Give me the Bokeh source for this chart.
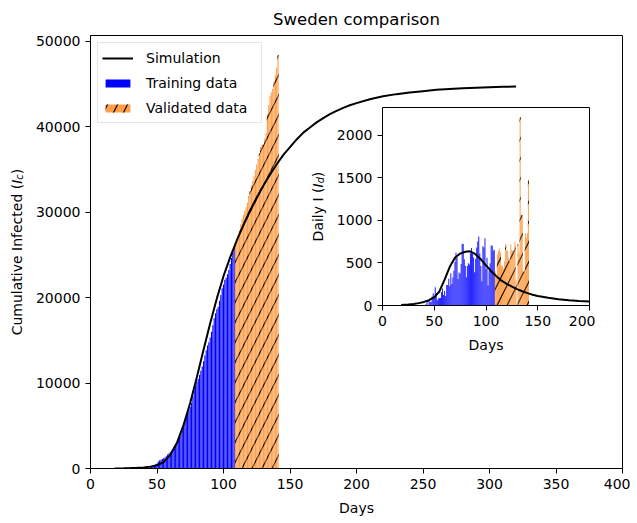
import numpy as np
from math import pi
from bokeh.plotting import figure
from bokeh.layouts import column, row
from bokeh.models import (Range1d, FixedTicker, NumeralTickFormatter, Label,
                          Legend, LegendItem, ColumnDataSource)
from bokeh.embed import file_html
from bokeh.resources import INLINE

# ---------------- data ----------------
days = list(range(35, 142))
daily_cases = [2, 5, 0, 5, 2, 1, 6, 14,
               59, 7, 60, 42, 45, 107, 145, 99,
               215, 147, 61, 81, 87, 89, 160, 200, 124, 171,
               112, 240, 240, 314, 229, 378, 253, 328, 407, 512,
               621, 563, 312, 387, 376, 487, 726, 722, 544, 466,
               332, 465, 497, 482, 613, 676, 606, 563, 392, 545,
               682, 751, 812, 610, 463, 286, 695, 681, 790, 428,
               562, 235, 404, 495, 702, 705, 642, 656,
               400, 350, 600, 640, 670, 625, 470, 465, 435, 520,
               725, 650, 640, 560, 520, 720, 650, 650, 640, 750,
               300, 0, 720, 620, 2215, 1070, 1060, 400, 400, 850, 800, 850, 1478]
training_end = 108

sim_cum_days = [18, 25, 30, 35, 40, 45, 50, 55, 60, 65,
                70, 75, 80, 85, 90, 95, 100, 105,
                110, 115, 120, 125, 130, 135, 140, 145, 150, 155, 160, 165, 170, 175, 180, 185, 190, 195, 200,
                210, 220, 230, 240, 250, 260, 270, 280, 290, 300, 310, 320]
sim_cum_vals = [10, 25, 45, 75, 130, 220, 380, 750, 1600, 3000,
                5100, 7700, 10700, 13900, 17000, 19900, 22500, 24700,
                26700, 28500, 30200, 31700, 33100, 34400, 35600, 36700, 37600, 38500, 39300, 39900, 40500, 41000, 41450, 41850, 42200, 42500, 42750,
                43200, 43550, 43800, 44000, 44150, 44300, 44400, 44480, 44550, 44600, 44650, 44680]

sim_daily_days = [18, 25, 30, 35, 40, 45, 50, 55, 60, 65, 70, 75, 80,
                  84, 88,
                  90, 95, 100, 105, 110, 115, 120, 125, 130, 135, 140, 145, 150,
                  160, 170, 180, 190, 200, 210]
sim_daily_vals = [6, 12, 18, 28, 42, 62, 98, 165, 305, 455, 560, 610, 632,
                  638, 615,
                  600, 543, 472, 402, 345, 292, 255, 223, 192, 167, 145, 126, 112,
                  92, 74, 62, 54, 47, 41]

main_x_ticks = [0, 50, 100, 150, 200, 250, 300, 350, 400]
main_y_ticks = [0, 10000, 20000, 30000, 40000, 50000]
inset_x_ticks = [0, 50, 100, 150, 200]
inset_y_ticks = [0, 500, 1000, 1500, 2000]

# ---------------- derived sources ----------------
d = np.array(days)
daily = np.array(daily_cases)
cumulative = np.cumsum(daily)
tr = d <= training_end
va = d > training_end
src_train = ColumnDataSource(dict(day=d[tr], cum=cumulative[tr], daily=daily[tr]))
src_valid = ColumnDataSource(dict(day=d[va], cum=cumulative[va], daily=daily[va]))

FONT = "DejaVu Sans"
BLUE = "blue"
ORANGE = "#ff7f0e"
HATCH = 20

MAIN_X = (0, 400)
MAIN_Y = (0, 50660)
INS_X = (0, 200)
INS_Y = (0, 2326)

H = 520            # main figure height
LAB_W = 30         # width of the strip holding the main y label
FRAME_L = 90       # page x of main frame left
FRAME_T = 35       # page y of main frame top
FRAME_W = 532
FRAME_H = 433
FRAME_B = H - FRAME_T - FRAME_H


def style(fig, xt, yt):
    fig.xaxis.ticker = FixedTicker(ticks=xt)
    fig.yaxis.ticker = FixedTicker(ticks=yt)
    fig.yaxis.formatter = NumeralTickFormatter(format="0")
    for ax in fig.axis:
        ax.axis_line_color = "black"
        ax.axis_line_width = 1
        ax.major_tick_line_color = "black"
        ax.major_tick_out = 5
        ax.major_tick_in = 0
        ax.minor_tick_line_color = None
        ax.major_label_text_font = FONT
        ax.major_label_text_font_size = "14px"
        ax.major_label_text_color = "black"
        ax.major_label_standoff = 5
        ax.axis_label_text_font = FONT
        ax.axis_label_text_font_size = "14px"
        ax.axis_label_text_font_style = "normal"
        ax.axis_label_text_color = "black"
        ax.axis_label_standoff = 8
    fig.grid.visible = False
    fig.outline_line_color = "black"
    fig.outline_line_alpha = 1
    fig.outline_line_width = 1


def ylabel_pieces(fig, x_center, x_per_px, y_per_px, y_start, base_text, sub_text):
    # "base (" + italic I + italic subscript + ")", rotated to read upwards
    w_base = {"Cumulative Infected (": 151.5, "Daily I (": 53.9}[base_text]
    sub_w = {"c": 0.550, "d": 0.635}[sub_text] * 9.8
    pieces = [
        (base_text, "14px", "normal", 0, w_base),
        ("I", "14px", "italic", 0, 4.13),
        (sub_text, "9.8px", "italic", 3, sub_w),
        (")", "14px", "normal", 0, 5.46),
    ]
    y = y_start
    for text, size, style_, shift, w in pieces:
        fig.add_layout(Label(x=x_center + shift * x_per_px, y=y, text=text, angle=pi / 2,
                             text_align="left", text_baseline="middle",
                             text_font=FONT, text_font_size=size, text_font_style=style_,
                             text_color="black"))
        y += w * y_per_px


mx = (MAIN_X[1] - MAIN_X[0]) / FRAME_W
my = (MAIN_Y[1] - MAIN_Y[0]) / FRAME_H

# ---------------- strip for the main y label (frame aligned with the main frame) ----------------
lab = figure(width=LAB_W, height=H, x_range=Range1d(0, LAB_W), y_range=Range1d(*MAIN_Y),
             title=None, x_axis_type=None, y_axis_type=None,
             output_backend="svg", toolbar_location=None,
             min_border_left=0, min_border_right=0,
             min_border_top=FRAME_T, min_border_bottom=FRAME_B,
             outline_line_color=None, background_fill_color="white", border_fill_color="white")
lab.grid.visible = False
ylabel_pieces(lab, 16, 1.0, my, (FRAME_T + FRAME_H - 334.8) * my, "Cumulative Infected (", "c")

# ---------------- main figure ----------------
p = figure(width=FRAME_L - LAB_W + FRAME_W + 8, height=H,
           x_range=Range1d(*MAIN_X), y_range=Range1d(*MAIN_Y),
           output_backend="svg", toolbar_location=None,
           min_border_left=FRAME_L - LAB_W, min_border_right=8,
           min_border_top=FRAME_T, min_border_bottom=FRAME_B,
           background_fill_color="white", border_fill_color="white")
p.title.text = "Sweden comparison"
p.title.align = "center"
p.title.vertical_align = "middle"
p.title.text_font = FONT
p.title.text_font_size = "16.5px"
p.title.text_font_style = "normal"
p.title.text_color = "black"
p.title.standoff = 11
style(p, main_x_ticks, main_y_ticks)
p.xaxis.axis_label = "Days"

r_train = p.vbar(x="day", top="cum", width=0.85, source=src_train,
                 fill_color=BLUE, line_color=None)
r_valid = p.vbar(x="day", top="cum", width=0.85, source=src_valid,
                 fill_color=ORANGE, fill_alpha=0.75, line_color=None,
                 hatch_pattern="/", hatch_scale=HATCH, hatch_weight=1.2, hatch_color="black")
r_sim = p.line(sim_cum_days, sim_cum_vals, line_color="black", line_width=2)

legend = Legend(items=[LegendItem(label="Simulation", renderers=[r_sim]),
                       LegendItem(label="Training data", renderers=[r_train]),
                       LegendItem(label="Validated data", renderers=[r_valid])],
                location="top_left")
legend.label_text_font = FONT
legend.label_text_font_size = "14px"
legend.label_text_color = "black"
legend.glyph_width = 31
legend.glyph_height = 10
legend.label_height = 21
legend.label_width = 111
legend.label_standoff = 13
legend.spacing = 4
legend.padding = 4
legend.margin = 7
legend.border_line_color = "#cccccc"
legend.border_line_width = 1
legend.background_fill_alpha = 0.8
p.add_layout(legend)

# inset y label, drawn on the main frame (visible through the inset's transparent border)
ylabel_pieces(p, (317 - FRAME_L) * mx, mx, my, (FRAME_T + FRAME_H - 240.9) * my, "Daily I (", "d")

# ---------------- inset figure ----------------
IN_L, IN_T, IN_W, IN_H = 382, 107, 207, 198
q = figure(width=80 + IN_W + 6, height=4 + IN_H + 55,
           x_range=Range1d(*INS_X), y_range=Range1d(*INS_Y),
           output_backend="svg", toolbar_location=None,
           min_border_left=80, min_border_right=6, min_border_top=4, min_border_bottom=55,
           background_fill_color="white", border_fill_alpha=0)
style(q, inset_x_ticks, inset_y_ticks)
q.xaxis.axis_label = "Days"

q.vbar(x="day", top="daily", width=1.0, source=src_train,
       fill_color=BLUE, fill_alpha=0.85, line_color=None)
q.vbar(x="day", top="daily", width=1.0, source=src_valid,
       fill_color=ORANGE, fill_alpha=0.7, line_color=None,
       hatch_pattern="/", hatch_scale=HATCH, hatch_weight=1.2, hatch_color="black")
q.line(sim_daily_days, sim_daily_vals, line_color="black", line_width=2)

q.margin = (IN_T - 4 - H, 0, 0, IN_L - 80)

layout = column(row(lab, p), q)
open("out.html", "w").write(file_html(layout, INLINE))
